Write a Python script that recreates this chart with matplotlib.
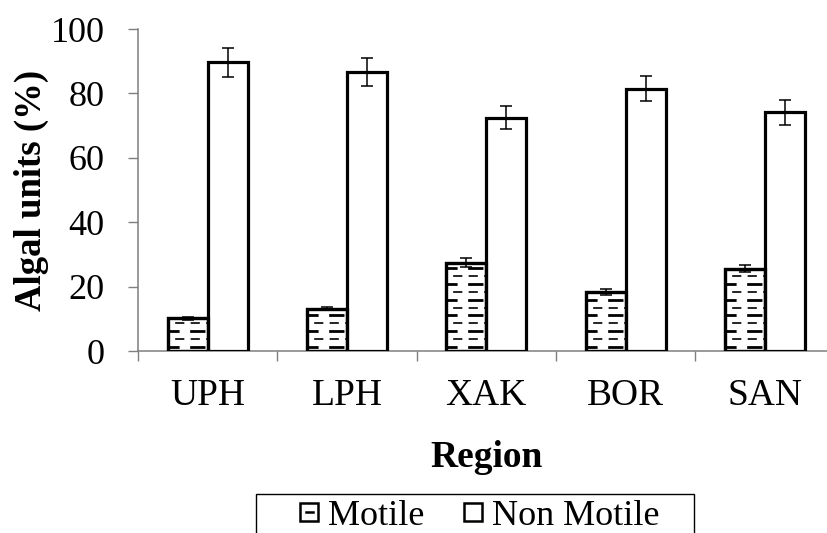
import matplotlib
matplotlib.use("Agg")
import matplotlib.pyplot as plt
import numpy as np
from matplotlib.patches import Rectangle
from matplotlib.lines import Line2D
from matplotlib.legend_handler import HandlerBase

plt.rcParams['font.family'] = ['Liberation Serif', 'DejaVu Serif']

regions = ["UPH", "LPH", "XAK", "BOR", "SAN"]
motile = [10.1, 13.1, 27.4, 18.4, 25.6]
motile_err = [0.5, 0.5, 1.4, 0.9, 1.1]
non_motile = [89.6, 86.6, 72.4, 81.4, 74.1]
non_motile_err = [4.5, 4.3, 3.6, 3.9, 3.8]
yticks = [0, 20, 40, 60, 80, 100]

W, H = 828, 533
fig = plt.figure(figsize=(W / 100, H / 100), dpi=100)
ax = fig.add_axes([138 / W, 1 - 351 / H, 696.5 / W, (351 - 29) / H])

n = len(regions)
centers = np.arange(n) + 0.5
bw = 0.287
edge_lw = 2.3

m_bars = ax.bar(centers - bw / 2, motile, width=bw, color="white",
                edgecolor="black", linewidth=edge_lw, zorder=3)
nm_bars = ax.bar(centers + bw / 2, non_motile, width=bw, color="white",
                 edgecolor="black", linewidth=edge_lw, zorder=3)

# dashed fill texture for the motile bars, clipped to each bar
row_step = 2.45
for bar in m_bars:
    x0, w, h = bar.get_x(), bar.get_width(), bar.get_height()
    rows = np.arange(row_step * 0.5, h - row_step * 0.3, row_step)
    for k, yy in enumerate(rows):
        thick = (k % 2 == 0)
        ln = Line2D([x0, x0 + w], [yy, yy], color="black",
                    linewidth=2.0 if thick else 1.2,
                    linestyle=(1.5 if thick else 5.0, (5.5, 3.8)),
                    zorder=3.2)
        ax.add_line(ln)
        ln.set_clip_path(bar)
# redraw outlines on top of the texture
for bar in m_bars:
    ax.add_patch(Rectangle((bar.get_x(), 0), bar.get_width(), bar.get_height(),
                           fill=False, edgecolor="black", linewidth=edge_lw,
                           zorder=3.4))

ax.errorbar(centers - bw / 2, motile, yerr=motile_err, fmt="none",
            ecolor="black", elinewidth=1.1, capsize=4, capthick=1.1, zorder=4)
ax.errorbar(centers + bw / 2, non_motile, yerr=non_motile_err, fmt="none",
            ecolor="black", elinewidth=1.1, capsize=4, capthick=1.1, zorder=4)

ax.set_xlim(0, n)
ax.set_ylim(0, 100)
ax.set_yticks(yticks)
ax.set_yticklabels([str(v) for v in yticks], fontsize=26)
ax.set_xticks(np.arange(n + 1))
ax.set_xticklabels([])
ax.set_xticks(centers, minor=True)
ax.set_xticklabels(regions, minor=True, fontsize=27)
ax.tick_params(axis="x", which="major", direction="out", length=7, width=1,
               color="#7f7f7f")
ax.tick_params(axis="x", which="minor", length=0, pad=20)
ax.tick_params(axis="y", direction="out", length=7, width=1,
               color="#7f7f7f", pad=17)

for s in ["top", "right"]:
    ax.spines[s].set_visible(False)
for s in ["left", "bottom"]:
    ax.spines[s].set_color("#7f7f7f")
    ax.spines[s].set_linewidth(1.1)

ax.set_ylabel("Algal units (%)", fontsize=26.5, fontweight="bold", labelpad=1)
ax.set_xlabel("Region", fontsize=27, fontweight="bold", labelpad=19)


class SquareHandler(HandlerBase):
    def __init__(self, dash=False):
        super().__init__()
        self.dash = dash

    def create_artists(self, legend, orig_handle, xdescent, ydescent,
                       width, height, fontsize, trans):
        s = 18 * 72 / 100.0
        x0 = -xdescent + width - s
        y0 = -ydescent + (height - s) / 2
        arts = [Rectangle((x0, y0), s, s, facecolor="white",
                          edgecolor="black", linewidth=1.8, transform=trans)]
        if self.dash:
            arts.append(Line2D([x0 + s * 0.3, x0 + s * 0.7],
                               [y0 + s / 2, y0 + s / 2], color="black",
                               linewidth=1.8, transform=trans))
        return arts


h_m = Rectangle((0, 0), 1, 1)
h_nm = Rectangle((0, 0), 1, 1)
leg = fig.legend([h_m, h_nm], ["Motile", "Non Motile"],
                 handler_map={h_m: SquareHandler(True),
                              h_nm: SquareHandler(False)},
                 loc="upper left", bbox_to_anchor=(256 / W, 1 - 489 / H),
                 ncol=2, fontsize=26, frameon=False,
                 handlelength=1.42, handleheight=0.55, handletextpad=0.28,
                 columnspacing=0.16, borderpad=0.3, borderaxespad=0)

# legend box
fig.patches.append(Rectangle((256 / W, -0.05), (694 - 256) / W,
                             0.05 + (533 - 494) / H, transform=fig.transFigure,
                             fill=False, edgecolor="black", linewidth=1.0))

fig.savefig("out.png", dpi=100)
